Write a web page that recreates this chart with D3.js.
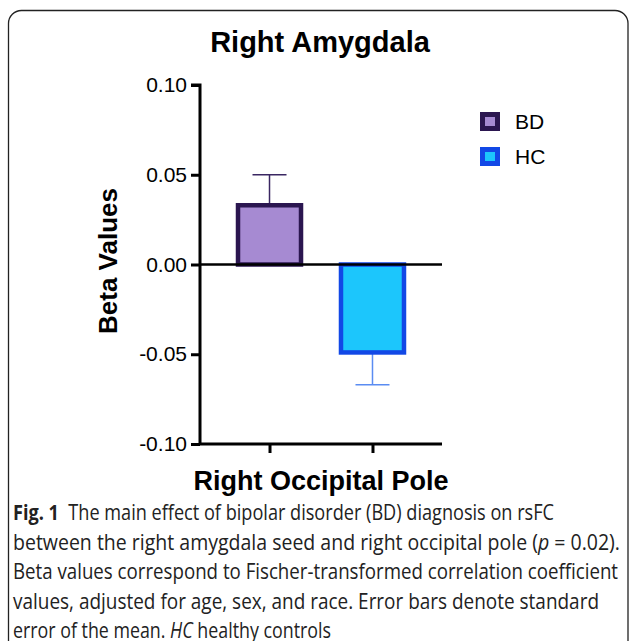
<!DOCTYPE html>
<html>
<head>
<meta charset="utf-8">
<script src="https://cdn.jsdelivr.net/npm/d3@7"></script>
<style>
  body { margin: 0; background: #fff; }
  svg { display: block; }
</style>
</head>
<body>
<svg width="629" height="641"></svg>
<script>
// values
var groups = ["BD", "HC"];
var means = [0.033, -0.049];
var sems = [0.017, 0.018];
var yTicks = [-0.10, -0.05, 0.00, 0.05, 0.10];
var fills = ["#a68ad2", "#1cc6fc"];
var strokes = ["#2b1650", "#1248e6"];
var errColors = ["#3a2762", "#5a8cf2"];
var captionLines = [
  [["Fig. 1", "b"], ["  The main effect of bipolar disorder (BD) diagnosis on rsFC", ""]],
  [["between the right amygdala seed and right occipital pole (", ""], ["p", "i"], [" = 0.02).", ""]],
  [["Beta values correspond to Fischer-transformed correlation coefficient", ""]],
  [["values, adjusted for age, sex, and race. Error bars denote standard", ""]],
  [["error of the mean. ", ""], ["HC", "i"], [" healthy controls", ""]]
];
var captionWidths = [541, 607, 605, 586, 318];

var svg = d3.select("svg");
var font = "'Liberation Sans', Arial, sans-serif";

// frame
svg.append("rect")
  .attr("x", 8.5).attr("y", 10.5)
  .attr("width", 619.5).attr("height", 660)
  .attr("rx", 13)
  .attr("fill", "none")
  .attr("stroke", "#222")
  .attr("stroke-width", 1.3);

var y = d3.scaleLinear().domain([-0.1, 0.1]).range([444, 85]);
var x = d3.scalePoint().domain(groups).range([200, 442]).padding(0.675);

svg.append("text")
  .attr("x", 320).attr("y", 52)
  .attr("text-anchor", "middle")
  .style("font-family", font).style("font-weight", "bold").style("font-size", "29px")
  .text("Right Amygdala");

// y axis
var yAxis = svg.append("g")
  .attr("transform", "translate(200,0)")
  .call(d3.axisLeft(y).tickValues(yTicks).tickFormat(d3.format(".2f")).tickSize(9).tickPadding(4));
yAxis.select(".domain").attr("stroke-width", 3).attr("d", "M0," + y(-0.1) + "V" + y(0.1) + "h-9");
yAxis.selectAll(".tick line").attr("stroke-width", 3);
yAxis.selectAll(".tick text")
  .style("font-family", font).style("font-size", "21px").attr("fill", "#000")
  .text(d => d < 0 ? "-" + d3.format(".2f")(-d) : d3.format(".2f")(d));

// x axis
var xAxis = svg.append("g")
  .attr("transform", "translate(0," + y(-0.1) + ")")
  .call(d3.axisBottom(x).tickSize(9).tickFormat(""));
xAxis.select(".domain").attr("stroke-width", 3).attr("d", "M200,0H442");
xAxis.selectAll(".tick line").attr("stroke-width", 3);

svg.append("text")
  .attr("transform", "translate(117,261) rotate(-90)")
  .attr("text-anchor", "middle")
  .style("font-family", font).style("font-weight", "bold").style("font-size", "26px")
  .text("Beta Values");

svg.append("text")
  .attr("x", 321).attr("y", 490)
  .attr("text-anchor", "middle")
  .style("font-family", font).style("font-weight", "bold").style("font-size", "27px")
  .text("Right Occipital Pole");

// error bars
var barW = 63;
var data = groups.map((g, i) => ({ g: g, m: means[i], s: sems[i], i: i }));
var err = svg.append("g").selectAll("g").data(data).enter().append("g")
  .attr("stroke", d => errColors[d.i]).attr("stroke-width", 1.5);
err.append("line")
  .attr("x1", d => x(d.g)).attr("x2", d => x(d.g))
  .attr("y1", d => y(d.m)).attr("y2", d => y(d.m + Math.sign(d.m) * d.s));
err.append("line")
  .attr("x1", d => x(d.g) - 17).attr("x2", d => x(d.g) + 17)
  .attr("y1", d => y(d.m + Math.sign(d.m) * d.s)).attr("y2", d => y(d.m + Math.sign(d.m) * d.s));

// bars
svg.append("g").selectAll("rect").data(data).enter().append("rect")
  .attr("x", d => x(d.g) - barW / 2)
  .attr("width", barW)
  .attr("y", d => y(Math.max(0, d.m)))
  .attr("height", d => Math.abs(y(d.m) - y(0)))
  .attr("fill", d => fills[d.i])
  .attr("stroke", d => strokes[d.i])
  .attr("stroke-width", 4.5);

// zero line
svg.append("line")
  .attr("x1", 200).attr("x2", 442)
  .attr("y1", y(0)).attr("y2", y(0))
  .attr("stroke", "#000").attr("stroke-width", 2.5);

// legend
var leg = svg.append("g").selectAll("g").data(data).enter().append("g")
  .attr("transform", (d, i) => "translate(480," + (112 + i * 35) + ")");
leg.append("rect")
  .attr("x", 2.5).attr("y", 2.5).attr("width", 15).attr("height", 14)
  .attr("fill", d => fills[d.i]).attr("stroke", d => strokes[d.i]).attr("stroke-width", 5);
leg.append("text")
  .attr("x", 35).attr("y", 17)
  .style("font-family", font).style("font-size", "21px")
  .text(d => d.g);

// caption
var cap = svg.append("g").selectAll("text").data(captionLines).enter().append("text")
  .attr("x", 13)
  .attr("y", (d, i) => 520 + i * 29.5)
  .attr("textLength", (d, i) => captionWidths[i])
  .attr("lengthAdjust", "spacingAndGlyphs")
  .style("font-family", "'Open Sans', 'Noto Sans', sans-serif").style("font-size", "21px")
  .attr("fill", "#222");
cap.selectAll("tspan").data(d => d).enter().append("tspan")
  .attr("xml:space", "preserve")
  .style("font-weight", d => d[1] === "b" ? "bold" : null)
  .style("font-style", d => d[1] === "i" ? "italic" : null)
  .style("white-space", "pre")
  .text(d => d[0]);
</script>
</body>
</html>
